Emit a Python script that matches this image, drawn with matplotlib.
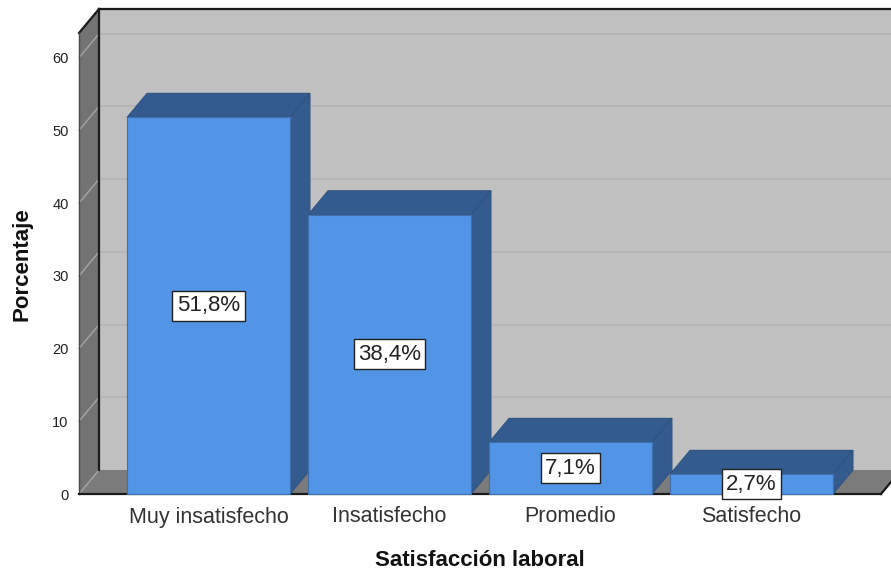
import matplotlib

matplotlib.use("Agg")
import matplotlib.pyplot as plt
from matplotlib.patches import Polygon

plt.rcParams["font.family"] = ["Liberation Sans", "DejaVu Sans"]

categories = ["Muy insatisfecho", "Insatisfecho", "Promedio", "Satisfecho"]
values = [51.8, 38.4, 7.1, 2.7]
labels = ["51,8%", "38,4%", "7,1%", "2,7%"]
yticks = [0, 10, 20, 30, 40, 50, 60]

W, H = 891, 571
fig = plt.figure(figsize=(W / 100, H / 100), dpi=100, facecolor="white")
ax = fig.add_axes([79 / W, (H - 494) / H, (881 - 79) / W, (494 - 33) / H])
xmin, xmax = -0.7155, 3.7155
ymin, ymax = 0, 63.4
ax.set_xlim(xmin, xmax)
ax.set_ylim(ymin, ymax)

# 3D depth offset, in data units (20 px across, 24 px up)
dx = 20 / 181
dy = 24 / 7.27
bar_w = 0.9


def poly(pts, color, edge="none", z=1, lw=0.8):
    ax.add_patch(Polygon(pts, closed=True, facecolor=color, edgecolor=edge, lw=lw, zorder=z, clip_on=False))


# back wall, left wall, floor
poly([(xmin + dx, dy), (xmax + dx, dy), (xmax + dx, ymax + dy), (xmin + dx, ymax + dy)], "#c0c0c0")
poly([(xmin, 0), (xmin + dx, dy), (xmin + dx, ymax + dy), (xmin, ymax)], "#737373")
poly([(xmin, 0), (xmax, 0), (xmax + dx, dy), (xmin + dx, dy)], "#7b7b7b")

for t in yticks[1:]:
    ax.plot([xmin + dx, xmax + dx], [t + dy, t + dy], color="#b4b4b4", lw=1.2, zorder=2, clip_on=False)
for t in yticks:
    ax.plot([xmin, xmin + dx], [t, t + dy], color="#a6a6a6", lw=1.0, zorder=2, clip_on=False)

# frame lines
ax.plot([xmin + dx, xmin + dx], [dy, ymax + dy], color="#1a1a1a", lw=1.6, zorder=3, clip_on=False)
ax.plot([xmin + dx, xmax + dx], [ymax + dy, ymax + dy], color="#1a1a1a", lw=1.6, zorder=3, clip_on=False)
ax.plot([xmin, xmin + dx], [ymax, ymax + dy], color="#1a1a1a", lw=1.6, zorder=3, clip_on=False)
ax.plot([xmin, xmin], [0, ymax], color="#4a4a4a", lw=1.0, zorder=3, clip_on=False)
ax.plot([xmin, xmax], [0, 0], color="#1a1a1a", lw=1.6, zorder=3, clip_on=False)
ax.plot([xmax, xmax + dx], [0, dy], color="#1a1a1a", lw=1.6, zorder=3, clip_on=False)

# bars with their top and side faces
for i, v in enumerate(values):
    l, r = i - bar_w / 2, i + bar_w / 2
    poly([(l, v), (r, v), (r + dx, v + dy), (l + dx, v + dy)], "#345b8e", "#2f5482", 4)
    poly([(r, 0), (r + dx, dy), (r + dx, v + dy), (r, v)], "#345b8e", "#2f5482", 4)
bars = ax.bar(range(len(values)), values, bar_w, color="#5294e5", edgecolor="#3f70ad", lw=0.8, zorder=5, clip_on=False)

for b, v, s in zip(bars, values, labels):
    ax.text(
        b.get_x() + b.get_width() / 2, v / 2, s, ha="center", va="center", fontsize=16, color="#222222", zorder=6,
        bbox=dict(boxstyle="square,pad=0.2", facecolor="white", edgecolor="#222222", lw=1.0),
    )

for sp in ax.spines.values():
    sp.set_visible(False)
ax.patch.set_visible(False)
ax.set_xticks(range(len(categories)))
ax.set_xticklabels(categories, fontsize=15.5, color="#333333")
ax.set_yticks(yticks)
ax.set_yticklabels([str(t) for t in yticks], fontsize=10.5, color="#222222")
ax.tick_params(axis="both", length=0)
ax.tick_params(axis="x", pad=9)
ax.tick_params(axis="y", pad=7.5)

fig.text(480 / W, 1 - 560 / H, "Satisfacción laboral", ha="center", va="center", fontsize=16, fontweight="bold", color="#111111")
fig.text(22 / W, 1 - 264 / H, "Porcentaje", ha="center", va="center", rotation=90, fontsize=16, fontweight="bold", color="#111111")

fig.savefig("out.png", dpi=100)
